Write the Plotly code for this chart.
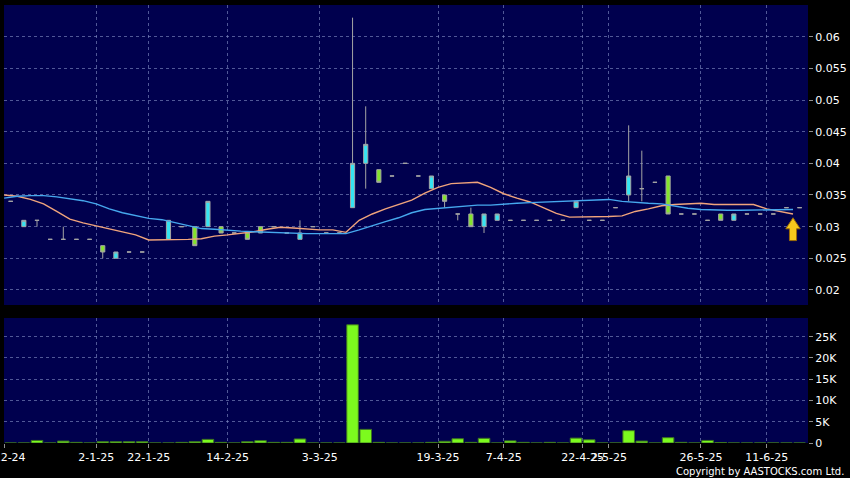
import plotly.graph_objects as go

# ---------------- data ----------------
bar_index = list(range(61))

open_p = [0.034, 0.030, 0.031, 0.028, 0.028, 0.028, 0.028, 0.027, 0.025, 0.026,
          0.026, None, 0.028, 0.030, 0.030, 0.030, 0.030, 0.029, 0.029, 0.030,
          0.030, 0.029, 0.028, 0.030, 0.029, 0.029, 0.033, 0.040, 0.039, 0.038,
          0.040, 0.038, 0.036, 0.035, 0.032, 0.032, 0.030, 0.031, 0.031, 0.031,
          0.031, 0.031, 0.031, 0.033, 0.031, 0.031, 0.033, 0.035, 0.036, 0.037,
          0.038, 0.032, 0.032, 0.031, 0.032, 0.031, 0.032, 0.032, 0.032, 0.033,
          0.033]
high_p = [0.034, 0.031, 0.031, 0.028, 0.030, 0.028, 0.028, 0.027, 0.026, 0.026,
          0.026, None, 0.031, 0.030, 0.030, 0.034, 0.030, 0.029, 0.029, 0.030,
          0.030, 0.029, 0.031, 0.030, 0.029, 0.029, 0.063, 0.049, 0.039, 0.038,
          0.040, 0.038, 0.038, 0.035, 0.032, 0.033, 0.032, 0.032, 0.031, 0.031,
          0.031, 0.031, 0.031, 0.034, 0.031, 0.031, 0.033, 0.046, 0.042, 0.037,
          0.038, 0.032, 0.032, 0.031, 0.032, 0.032, 0.032, 0.032, 0.032, 0.033,
          0.033]
low_p = [0.034, 0.030, 0.030, 0.028, 0.028, 0.028, 0.028, 0.025, 0.025, 0.026,
         0.026, None, 0.028, 0.030, 0.027, 0.030, 0.029, 0.029, 0.028, 0.029,
         0.030, 0.029, 0.028, 0.030, 0.029, 0.029, 0.033, 0.036, 0.037, 0.038,
         0.040, 0.038, 0.036, 0.033, 0.031, 0.030, 0.029, 0.031, 0.031, 0.031,
         0.031, 0.031, 0.031, 0.033, 0.031, 0.031, 0.033, 0.034, 0.034, 0.037,
         0.032, 0.032, 0.032, 0.031, 0.031, 0.031, 0.032, 0.032, 0.032, 0.033,
         0.033]
close_p = [0.034, 0.031, 0.031, 0.028, 0.028, 0.028, 0.028, 0.026, 0.026, 0.026,
           0.026, None, 0.031, 0.030, 0.027, 0.034, 0.029, 0.029, 0.028, 0.029,
           0.030, 0.029, 0.029, 0.030, 0.029, 0.029, 0.040, 0.043, 0.037, 0.038,
           0.040, 0.038, 0.038, 0.034, 0.032, 0.030, 0.032, 0.032, 0.031, 0.031,
           0.031, 0.031, 0.031, 0.034, 0.031, 0.031, 0.033, 0.038, 0.036, 0.037,
           0.032, 0.032, 0.032, 0.031, 0.031, 0.032, 0.032, 0.032, 0.032, 0.033,
           0.033]

volume = [0, 0, 600, 0, 450, 150, 0, 300, 300, 300,
          300, 0, 0, 150, 300, 850, 150, 0, 300, 550,
          150, 150, 950, 0, 0, 0, 27800, 3200, 150, 0,
          0, 0, 150, 400, 1000, 150, 1100, 0, 500, 150,
          0, 150, 0, 1150, 750, 0, 0, 2900, 450, 0,
          1250, 150, 0, 600, 120, 0, 0, 0, 0, 0,
          0]

# moving averages (plotted half a bar to the left of each bar)
ma_short = [0.0350, 0.0348, 0.0343, 0.0336, 0.0324, 0.0312, 0.0306, 0.0301, 0.0296, 0.0292,
            0.0287, 0.0279, 0.0279, 0.0279, 0.0280, 0.0281, 0.0285, 0.0287, 0.0289, 0.0292,
            0.0296, 0.0299, 0.0298, 0.0296, 0.0295, 0.0295, 0.0291, 0.0310, 0.0320, 0.0328,
            0.0335, 0.0342, 0.0353, 0.0362, 0.0368, 0.0369, 0.0370, 0.0362, 0.0352, 0.0345,
            0.0339, 0.0330, 0.0321, 0.0315, 0.0315, 0.0315, 0.0316, 0.0317, 0.0324, 0.0328,
            0.0333, 0.0335, 0.0336, 0.0337, 0.0335, 0.0335, 0.0335, 0.0335, 0.0328, 0.0324,
            0.0320]
ma_long = [0.0345, 0.0348, 0.0349, 0.0349, 0.0347, 0.0344, 0.0341, 0.0336, 0.0328, 0.0322,
           0.0318, 0.0313, 0.0311, 0.0306, 0.0302, 0.0297, 0.0296, 0.0294, 0.0293, 0.0292,
           0.0291, 0.0290, 0.0289, 0.0289, 0.0289, 0.0289, 0.0289, 0.0295, 0.0302, 0.0308,
           0.0314, 0.0322, 0.0327, 0.0329, 0.0331, 0.0333, 0.0334, 0.0334, 0.0336, 0.0337,
           0.0338, 0.0339, 0.0339, 0.0340, 0.0341, 0.0342, 0.0343, 0.0340, 0.0338, 0.0337,
           0.0336, 0.0332, 0.0329, 0.0327, 0.0326, 0.0326, 0.0326, 0.0326, 0.0327, 0.0327,
           0.0327]

date_tick_pos = [-0.5, 6.5, 10.5, 16.5, 23.5, 32.5, 37.5, 43.5, 45.5, 52.5, 57.5]
date_tick_text = ["2-12-24", "2-1-25", "22-1-25", "14-2-25", "3-3-25", "19-3-25",
                  "7-4-25", "22-4-25", "2-5-25", "26-5-25", "11-6-25"]

price_ticks = [0.02, 0.025, 0.03, 0.035, 0.04, 0.045, 0.05, 0.055, 0.06]
price_tick_text = ["0.02", "0.025", "0.03", "0.035", "0.04", "0.045", "0.05", "0.055", "0.06"]
vol_ticks = [0, 5000, 10000, 15000, 20000, 25000]
vol_tick_text = ["0", "5K", "10K", "15K", "20K", "25K"]

# ---------------- figure ----------------
W, H = 850, 478
FONT = "DejaVu Sans"
GRID = "rgba(125,135,190,0.65)"
CYAN = "#35e4f2"
GREEN = "#84e42c"
WICK = "#a4a4a4"

ma_x = [i - 0.5 for i in bar_index]

fig = go.Figure()

fig.add_trace(go.Scatter(x=ma_x, y=ma_short, mode="lines",
                         line=dict(color="#f0a47c", width=1.4),
                         xaxis="x", yaxis="y", hoverinfo="skip"))
fig.add_trace(go.Scatter(x=ma_x, y=ma_long, mode="lines",
                         line=dict(color="#46a8ee", width=1.4),
                         xaxis="x", yaxis="y", hoverinfo="skip"))

fig.add_trace(go.Candlestick(
    x=bar_index, open=open_p, high=high_p, low=low_p, close=close_p,
    increasing=dict(fillcolor=CYAN, line=dict(color=WICK, width=1)),
    decreasing=dict(fillcolor=GREEN, line=dict(color=WICK, width=1)),
    whiskerwidth=0, xaxis="x", yaxis="y"))

fig.add_trace(go.Bar(x=bar_index, y=volume, width=0.88,
                     marker=dict(color="#7cfa1e", line=dict(color="#3d7420", width=1)),
                     xaxis="x2", yaxis="y2"))

# last-price marker arrow
ax = bar_index[-1] - 0.5
ay = close_p[-1] - 0.0016
hw, sw = 0.55, 0.27
hh, sh = 0.00174, 0.0036
arrow_path = (f"M {ax},{ay} L {ax+hw},{ay-hh} L {ax+sw},{ay-hh} L {ax+sw},{ay-sh} "
              f"L {ax-sw},{ay-sh} L {ax-sw},{ay-hh} L {ax-hw},{ay-hh} Z")
fig.add_shape(type="path", path=arrow_path, xref="x", yref="y",
              fillcolor="#f6c81c", line=dict(color="#9a6a08", width=1))

x_left, x_right = 4 / W, 808 / W
x_range = [-0.51, 60.64]

axis_common = dict(showline=False, zeroline=False, gridcolor=GRID, griddash="dot",
                   gridwidth=1, automargin=False)

fig.update_layout(
    width=W, height=H,
    margin=dict(l=0, r=0, t=0, b=0, autoexpand=False),
    paper_bgcolor="black", plot_bgcolor="#00004e",
    showlegend=False, boxgap=0.55,
    font=dict(family=FONT, color="white", size=11),
    xaxis=dict(domain=[x_left, x_right], range=x_range, anchor="y",
               tickvals=date_tick_pos, showticklabels=False, ticks="",
               rangeslider=dict(visible=False), **axis_common),
    xaxis2=dict(domain=[x_left, x_right], range=x_range, anchor="y2", matches="x",
                tickvals=date_tick_pos, ticktext=date_tick_text, ticks="outside",
                ticklen=4, tickcolor="#909090", tickangle=0, ticklabeloverflow="allow",
                tickfont=dict(family=FONT, size=11, color="white"), **axis_common),
    yaxis=dict(domain=[1 - 305 / H, 1 - 5 / H], range=[0.01763, 0.0650], side="right",
               anchor="x", tickvals=price_ticks, ticktext=price_tick_text,
               ticks="outside", ticklen=4, tickcolor="#909090",
               tickfont=dict(family=FONT, size=11, color="white"), **axis_common),
    yaxis2=dict(domain=[1 - 443 / H, 1 - 318 / H], range=[0, 29400], side="right",
                anchor="x2", tickvals=vol_ticks, ticktext=vol_tick_text,
                ticks="outside", ticklen=4, tickcolor="#909090",
                tickfont=dict(family=FONT, size=11, color="white"), **axis_common),
    annotations=[dict(text="Copyright by AASTOCKS.com Ltd.", xref="paper", yref="paper",
                      x=846 / W, y=(H - 471) / H, xanchor="right", yanchor="middle",
                      showarrow=False, font=dict(family=FONT, size=10, color="white"))],
)

fig.write_html("out.html",
               config={"displayModeBar": False},
               post_script="document.body.style.margin='0';"
                           "document.body.style.background='black';"
                           "document.body.style.overflow='hidden';")
